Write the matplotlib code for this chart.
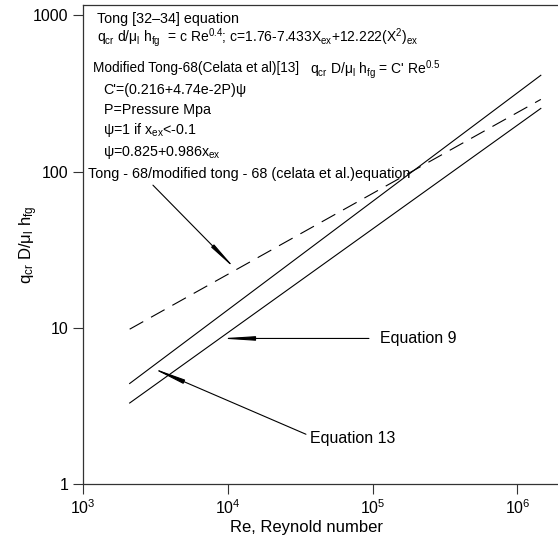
import numpy as np
import matplotlib
matplotlib.use("Agg")
import matplotlib.pyplot as plt
from matplotlib.ticker import FixedLocator, FixedFormatter, NullLocator

plt.rcParams['font.family'] = ['Liberation Sans', 'DejaVu Sans']
plt.rcParams['mathtext.fontset'] = 'custom'
plt.rcParams['mathtext.rm'] = 'Liberation Sans'
plt.rcParams['mathtext.it'] = 'Liberation Sans:italic'
plt.rcParams['mathtext.default'] = 'regular'

# Reynolds number range of the correlations (end points of each straight line on log-log)
re_ends = [2100, 1.45e6]
tong68 = [9.8, 290]      # Tong-68 / modified Tong-68 (Celata et al.)
eq13 = [4.4, 414]        # Equation 13
eq9 = [3.3, 254]         # Equation 9

# Re where the callout arrows touch each line
re_tip_tong = 11400
re_tip_eq9 = 8800
re_tip_eq13 = 2950

y_ticks = [1, 10, 100, 1000]
y_labels = ['1', '10', '100', '1000']


def on_line(re, ends):
    # value on a straight log-log line through the two end points
    return 10 ** np.interp(np.log10(re), np.log10(re_ends), np.log10(ends))


fig = plt.figure(figsize=(5.58, 5.5), dpi=100)
ax = fig.add_axes([83 / 558, 66 / 550, 475 / 558, 479 / 550])

ax.plot(re_ends, tong68, c='k', lw=0.8, dashes=(14, 8))
ax.plot(re_ends, eq13, c='k', lw=0.8)
ax.plot(re_ends, eq9, c='k', lw=0.8)

ax.set_xscale('log')
ax.set_yscale('log')
ax.set_xlim(1e3, 10 ** 6.28)
ax.set_ylim(1, 10 ** 3.067)
ax.yaxis.set_major_locator(FixedLocator(y_ticks))
ax.yaxis.set_major_formatter(FixedFormatter(y_labels))
ax.xaxis.set_minor_locator(NullLocator())
ax.yaxis.set_minor_locator(NullLocator())
ax.tick_params(direction='out', length=7, width=0.8, labelsize=11.5, color='#333333')
for side in ['left', 'bottom', 'top']:
    ax.spines[side].set_linewidth(0.9)
    ax.spines[side].set_color('#333333')
ax.spines['right'].set_visible(False)

ax.set_xlabel('Re, Reynold number', fontsize=12)
ax.xaxis.set_label_coords((306 - 83) / 475, -0.076)
ax.set_ylabel(r'q$_{cr}$ D/μ$_l$ h$_{fg}$', fontsize=12)
ax.yaxis.set_label_coords(-0.09, 0.5)

# correlation notes in the upper left
fs = 10.3
tr = ax.transAxes
ax.text(0.029, 0.963, 'Tong [32–34] equation', fontsize=fs, transform=tr)
ax.text(0.029, 0.923,
        r'q$_{cr}$ d/μ$_l$ h$_{fg}$  = c Re$^{0.4}$; c=1.76-7.433X$_{ex}$+12.222(X$^2$)$_{ex}$',
        fontsize=10, transform=tr)
ax.text(0.021, 0.860, 'Modified Tong-68(Celata et al)[13]', fontsize=9.8, transform=tr)
ax.text((310 - 83) / 475, 0.856, r"q$_{cr}$ D/μ$_l$ h$_{fg}$ = C' Re$^{0.5}$",
        fontsize=10, transform=tr)
ax.text(0.042, 0.814, "C'=(0.216+4.74e-2P)ψ", fontsize=fs, transform=tr)
ax.text(0.044, 0.772, 'P=Pressure Mpa', fontsize=fs, transform=tr)
ax.text(0.042, 0.730, r'ψ=1 if x$_{ex}$<-0.1', fontsize=fs, transform=tr)
ax.text(0.042, 0.685, r'ψ=0.825+0.986x$_{ex}$', fontsize=fs, transform=tr)

# thin leader lines with a long narrow head at the curve
arrow = dict(arrowstyle='-|>,head_length=1.7,head_width=0.11', color='k', lw=0.8,
             shrinkA=1, shrinkB=0)

ax.annotate('Tong - 68/modified tong - 68 (celata et al.)equation',
            xy=(re_tip_tong, on_line(re_tip_tong, tong68)),
            xytext=(0.0105, 0.638), textcoords='axes fraction',
            fontsize=10.4, va='baseline',
            arrowprops=dict(arrow, relpos=(0.19, 0.0)))
# horizontal leader: label sits at the same height as the arrow tip
tip9 = on_line(re_tip_eq9, eq9)
ax.annotate('Equation 9',
            xy=(re_tip_eq9, tip9),
            xytext=(1.125e5, tip9), textcoords='data',
            fontsize=11.5, va='center',
            arrowprops=dict(arrow, relpos=(0.0, 0.5), shrinkA=6))
ax.annotate('Equation 13',
            xy=(re_tip_eq13, on_line(re_tip_eq13, eq13)),
            xytext=((310 - 83) / 475, (484 - 439) / 479), textcoords='axes fraction',
            fontsize=11.5, va='center',
            arrowprops=dict(arrow, relpos=(0.0, 0.7)))

plt.savefig('out.png', dpi=100)
